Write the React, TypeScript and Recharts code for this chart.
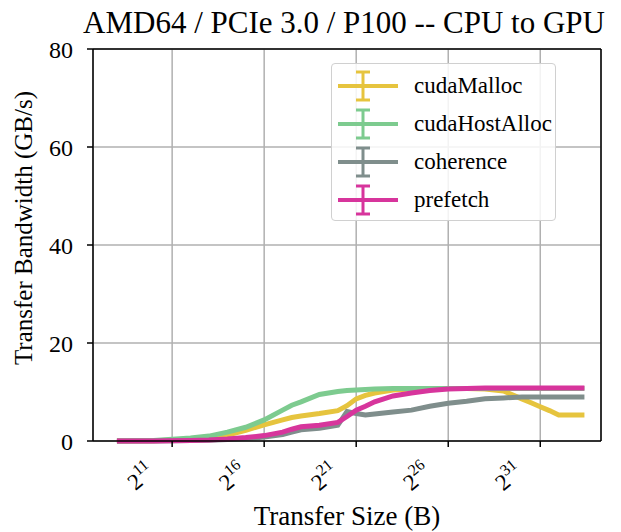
import React from 'react';
import { LineChart, Line, XAxis, YAxis, CartesianGrid, ReferenceLine, Label } from 'recharts';

// log2 of transfer size in bytes
const sizeExp = [8, 10, 12, 13, 14, 15, 16, 17, 17.5, 18, 19, 20, 20.5, 21, 21.5, 22, 23, 24, 25, 26, 27, 28, 29, 30, 30.5, 31, 31.5, 32, 33, 33.4];

const cudaMalloc = [0, 0.05, 0.3, 0.6, 1.2, 2.2, 3.3, 4.3, 4.8, 5.1, 5.6, 6.2, 7.2, 8.6, 9.3, 9.8, 10.4, 10.6, 10.7, 10.7, 10.7, 10.6, 10.2, 8.6, 7.8, 7.0, 6.2, 5.3, 5.3, 5.3];
const cudaHostAlloc = [0, 0.1, 0.6, 1.0, 1.8, 2.8, 4.3, 6.3, 7.3, 8.0, 9.5, 10.1, 10.3, 10.4, 10.5, 10.6, 10.7, 10.7, 10.7, 10.7, 10.7, 10.7, 10.7, 10.7, 10.7, 10.7, 10.7, 10.7, 10.7, 10.7];
const coherence = [0, 0, 0.1, 0.15, 0.3, 0.5, 0.8, 1.3, 1.8, 2.3, 2.6, 3.2, 6.0, 5.6, 5.3, 5.5, 5.9, 6.3, 7.1, 7.7, 8.1, 8.6, 8.8, 9.0, 9.0, 9.0, 9.0, 9.0, 9.0, 9.0];
const prefetch = [0, 0, 0.1, 0.2, 0.4, 0.7, 1.1, 1.8, 2.4, 2.9, 3.2, 3.8, 5.0, 6.3, 7.1, 8.0, 9.2, 9.8, 10.3, 10.6, 10.7, 10.8, 10.8, 10.8, 10.8, 10.8, 10.8, 10.8, 10.8, 10.8];

const xTicks = [11, 16, 21, 26, 31];
const yTicks = [0, 20, 40, 60, 80];

const series = [
  { key: 'cudaMalloc', color: '#e6c43e', values: cudaMalloc },
  { key: 'cudaHostAlloc', color: '#7dcb8f', values: cudaHostAlloc },
  { key: 'coherence', color: '#7f8e8c', values: coherence },
  { key: 'prefetch', color: '#d7359c', values: prefetch },
];

const data = sizeExp.map((e, i) => {
  const row: Record<string, number> = { exp: e };
  series.forEach(s => { row[s.key] = s.values[i]; });
  return row;
});

const FONT = '"Liberation Serif", "DejaVu Serif", serif';

function PowTick(props: any) {
  const { x, y, payload } = props;
  return (
    <g transform={`translate(${x - 16},${y + 25}) rotate(-40)`}>
      <text textAnchor="end" fontFamily={FONT} fill="#000">
        <tspan fontSize={23}>2</tspan>
        <tspan fontSize={16} dy={-10}>{payload.value}</tspan>
      </text>
    </g>
  );
}

function YTitle() {
  return (
    <text
      x={23} y={228} transform="rotate(-90, 23, 228)"
      textAnchor="middle" dominantBaseline="central"
      fontFamily={FONT} fontSize={25} fill="#000"
    >
      Transfer Bandwidth (GB/s)
    </text>
  );
}

function ErrIcon({ color }: { color: string }) {
  return (
    <svg width={62} height={32} style={{ display: 'block' }}>
      <line x1={1} y1={16} x2={61} y2={16} stroke={color} strokeWidth={4} />
      <line x1={26} y1={2} x2={26} y2={30} stroke={color} strokeWidth={3} />
      <line x1={19} y1={2} x2={33} y2={2} stroke={color} strokeWidth={3} />
      <line x1={19} y1={30} x2={33} y2={30} stroke={color} strokeWidth={3} />
    </svg>
  );
}

function LegendBox() {
  return (
    <div style={{
      position: 'absolute', left: 331, top: 63,
      border: '1.5px solid #d0d0d0', borderRadius: 4, background: 'rgba(255,255,255,0.85)',
      width: 225, height: 158, boxSizing: 'border-box', padding: '3px 0 0 5px',
    }}>
      {series.map(s => (
        <div key={s.key} style={{ display: 'flex', alignItems: 'center', height: 38 }}>
          <ErrIcon color={s.color} />
          <span style={{ fontFamily: FONT, fontSize: 23, marginLeft: 15, color: '#000' }}>{s.key}</span>
        </div>
      ))}
    </div>
  );
}

export default function App() {
  return (
    <div style={{ position: 'absolute', left: 0, top: 0, width: 621, height: 532, background: '#fff' }}>
      <div style={{
        position: 'absolute', left: 44, width: 600, top: 7, textAlign: 'center', lineHeight: '31px',
        fontFamily: FONT, fontSize: 31, color: '#000', whiteSpace: 'nowrap',
      }}>
        AMD64 / PCIe 3.0 / P100 -- CPU to GPU
      </div>
      <LineChart width={621} height={532} data={data} margin={{ top: 49, right: 20, bottom: 0, left: 0 }}>
        <CartesianGrid stroke="#b0b0b0" strokeWidth={1.5} />
        <XAxis
          dataKey="exp"
          type="number"
          domain={[6.7, 34.3]}
          ticks={xTicks}
          tick={<PowTick />}
          height={91}
          stroke="#000"
          strokeWidth={1.5}
          tickSize={6}
          interval={0}
        >
          <Label value="Transfer Size (B)" position="insideBottom" offset={7} style={{ fontFamily: FONT, fontSize: 27, fill: '#000' }} />
        </XAxis>
        <YAxis
          type="number"
          domain={[0, 80]}
          ticks={yTicks}
          width={93}
          stroke="#000"
          strokeWidth={1.5}
          tickSize={6}
          tickMargin={14}
          tick={{ fontFamily: FONT, fontSize: 24, fill: '#000' }}
          interval={0}
        >
          <Label content={<YTitle />} />
        </YAxis>
        <ReferenceLine y={80} stroke="#000" strokeWidth={1.5} />
        <ReferenceLine x={34.3} stroke="#000" strokeWidth={1.5} />
        {series.map(s => (
          <Line
            key={s.key}
            type="linear"
            dataKey={s.key}
            stroke={s.color}
            strokeWidth={5}
            dot={false}
            isAnimationActive={false}
          />
        ))}
      </LineChart>
      <LegendBox />
    </div>
  );
}
